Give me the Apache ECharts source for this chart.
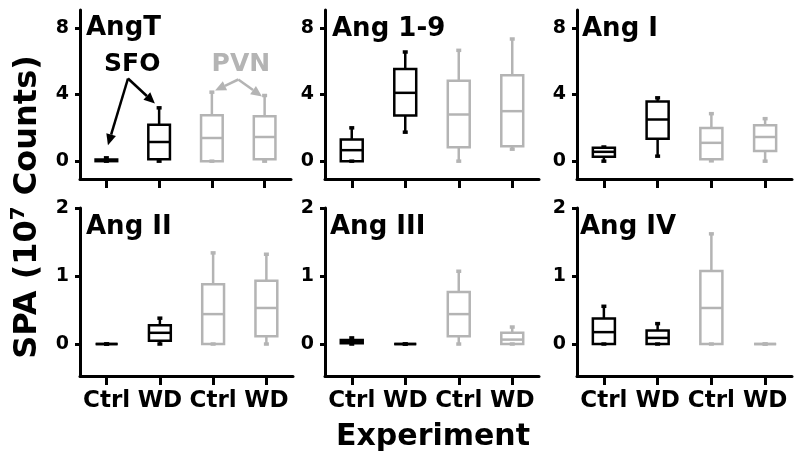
<!DOCTYPE html>
<html>
<head>
<meta charset="utf-8">
<script src="https://cdn.jsdelivr.net/npm/echarts@6/dist/echarts.min.js"></script>
<style>html,body{margin:0;padding:0;background:#fff}#c{width:800px;height:465px}</style>
</head>
<body>
<div id="c"></div>
<script>
// ---- data ----
const categories = ['Ctrl', 'WD', 'Ctrl', 'WD'];
const panelTitles = ['AngT', 'Ang 1-9', 'Ang I', 'Ang II', 'Ang III', 'Ang IV'];
// each box: [min, Q1, median, Q3, max]  (10^7 counts)
const angT   = [[0, 0, 0.05, 0.1, 0.2], [0, 0.12, 1.15, 2.19, 3.2], [0, 0, 1.39, 2.75, 4.14], [0, 0.12, 1.45, 2.7, 3.94]];
const ang19  = [[0, 0, 0.66, 1.3, 2.0], [1.74, 2.74, 4.1, 5.53, 6.55], [0, 0.84, 2.8, 4.83, 6.65], [0.72, 0.9, 3.0, 5.15, 7.33]];
const angI   = [[0, 0.26, 0.56, 0.8, 0.85], [0.3, 1.35, 2.5, 3.58, 3.8], [0.02, 0.12, 1.1, 1.99, 2.85], [0, 0.61, 1.45, 2.15, 2.55]];
const angII  = [[0, 0, 0, 0, 0], [0, 0.05, 0.165, 0.275, 0.38], [0, 0, 0.44, 0.88, 1.34], [0, 0.115, 0.53, 0.93, 1.32]];
const angIII = [[0, 0.01, 0.04, 0.06, 0.09], [0, 0, 0, 0, 0], [0, 0.115, 0.44, 0.765, 1.07], [0, 0, 0.065, 0.165, 0.25]];
const angIV  = [[0, 0, 0.175, 0.375, 0.555], [0, 0, 0.09, 0.2, 0.3], [0, 0, 0.53, 1.075, 1.62], [0, 0, 0, 0, 0]];
const topTicks = [0, 4, 8];
const bottomTicks = [0, 1, 2];
// annotation anchors in panel-1 data units: [category position, value]
const sfoLabel = [0.49, 5.79];
const sfoApex = [0.41, 4.96];
const sfoTips = [[0.03, 0.96], [0.92, 3.46]];
const pvnLabel = [2.55, 5.79];
const pvnApex = [2.5, 4.9];
const pvnTips = [[2.06, 4.24], [2.95, 3.88]];

// ---- styling ----
const FONT = '"DejaVu Sans", "Liberation Sans", Arial, sans-serif';
const BLACK = '#000000';
const GRAY = '#b4b4b4';
const panels = [angT, ang19, angI, angII, angIII, angIV];

const grids = [
  {left: 80, top: 10, width: 211, height: 169},
  {left: 325, top: 10, width: 214, height: 169},
  {left: 577, top: 10, width: 215, height: 169},
  {left: 80, top: 208, width: 213, height: 168},
  {left: 325, top: 208, width: 214, height: 168},
  {left: 577, top: 208, width: 215, height: 168}
];

function renderBox(params, api) {
  const i = api.value(0);
  const v = [1, 2, 3, 4, 5].map(k => api.value(k));
  const color = i < 2 ? BLACK : GRAY;
  const bw = api.size([1, 0])[0] * 0.41;
  const pts = v.map(val => api.coord([i, val]));
  const cx = pts[0][0];
  const y = pts.map(p => p[1]);
  const hw = bw / 2, cap = 2.5;
  const st = {stroke: color, lineWidth: 2.5, fill: 'none'};
  const capSt = {stroke: color, lineWidth: 3.5, fill: 'none'};
  return {
    type: 'group',
    children: [
      {type: 'line', shape: {x1: cx, y1: y[3], x2: cx, y2: y[4]}, style: st},
      {type: 'line', shape: {x1: cx, y1: y[1], x2: cx, y2: y[0]}, style: st},
      {type: 'line', shape: {x1: cx - cap, y1: y[4], x2: cx + cap, y2: y[4]}, style: capSt},
      {type: 'line', shape: {x1: cx - cap, y1: y[0], x2: cx + cap, y2: y[0]}, style: capSt},
      {type: 'rect', shape: {x: cx - hw, y: y[3], width: bw, height: Math.max(0, y[1] - y[3])}, style: st},
      {type: 'line', shape: {x1: cx - hw, y1: y[2], x2: cx + hw, y2: y[2]}, style: st}
    ]
  };
}

const xAxes = [], yAxes = [], series = [];
panels.forEach((p, g) => {
  const top = g < 3;
  xAxes.push({
    gridIndex: g, type: 'category', data: categories, boundaryGap: true,
    axisLine: {show: true, onZero: false, lineStyle: {color: BLACK, width: 3}},
    axisTick: {show: true, alignWithLabel: true, interval: 0, length: 9, lineStyle: {color: BLACK, width: 3}},
    axisLabel: {show: !top, interval: 0, hideOverlap: false, color: BLACK, fontSize: 23, fontWeight: 'bold', fontFamily: FONT, margin: 14},
    splitLine: {show: false}
  });
  yAxes.push({
    gridIndex: g, type: 'value',
    min: top ? -1.07 : -0.47, max: top ? 9.07 : 2,
    axisLine: {show: true, lineStyle: {color: BLACK, width: 3}},
    axisTick: {show: true, length: 5, lineStyle: {color: BLACK, width: 3}, customValues: top ? topTicks : bottomTicks},
    axisLabel: {show: true, color: BLACK, fontSize: 19, fontWeight: 'bold', fontFamily: FONT, margin: 11, customValues: top ? topTicks : bottomTicks},
    splitLine: {show: false}
  });
  series.push({
    type: 'custom', xAxisIndex: g, yAxisIndex: g,
    renderItem: renderBox,
    encode: {x: 0, y: [1, 2, 3, 4, 5]},
    data: p.map((b, i) => [i].concat(b)),
    silent: true
  });
});

const titlePos = [[86, 28], [332, 29], [582, 29], [86, 227], [330, 227], [580, 227]];
const graphics = panelTitles.map((t, k) => ({
  type: 'text', x: titlePos[k][0], y: titlePos[k][1],
  style: {text: t, fill: BLACK, font: 'bold 26px ' + FONT, align: 'left', verticalAlign: 'middle'}
}));
graphics.push({
  type: 'text', x: 433, y: 437,
  style: {text: 'Experiment', fill: BLACK, font: 'bold 30px ' + FONT, align: 'center', verticalAlign: 'middle'}
});
graphics.push({
  type: 'text', x: 28, y: 207, rotation: Math.PI / 2,
  style: {
    text: '{a|SPA (10}{s|7}{a| Counts)}',
    align: 'center', verticalAlign: 'middle',
    rich: {
      a: {fontSize: 32, fontWeight: 'bold', fontFamily: FONT, fill: BLACK, lineHeight: 40},
      s: {fontSize: 20, fontWeight: 'bold', fontFamily: FONT, fill: BLACK, lineHeight: 20, padding: [0, 0, 18, 0]}
    }
  }
});

const chart = echarts.init(document.getElementById('c'), null, {renderer: 'canvas'});
chart.setOption({
  animation: false,
  backgroundColor: '#ffffff',
  grid: grids,
  xAxis: xAxes,
  yAxis: yAxes,
  series: series,
  graphic: graphics
});

// annotations positioned through panel-1 scales
function toPx(pt) {
  const a = chart.convertToPixel({gridIndex: 0}, [0, pt[1]]);
  const b = chart.convertToPixel({gridIndex: 0}, [1, pt[1]]);
  return [a[0] + pt[0] * (b[0] - a[0]), a[1]];
}
function arrow(from, to, color) {
  const p0 = toPx(from), p1 = toPx(to);
  const dx = p1[0] - p0[0], dy = p1[1] - p0[1];
  const L = Math.sqrt(dx * dx + dy * dy);
  const ux = dx / L, uy = dy / L;
  const hl = 11, hw = 5;
  const bx = p1[0] - ux * hl, by = p1[1] - uy * hl;
  return [
    {type: 'line', shape: {x1: p0[0], y1: p0[1], x2: bx, y2: by}, style: {stroke: color, lineWidth: 2.5}},
    {type: 'polygon', shape: {points: [[p1[0], p1[1]], [bx - uy * hw, by + ux * hw], [bx + uy * hw, by - ux * hw]]}, style: {fill: color}}
  ];
}
const ann = [];
const sl = toPx(sfoLabel), pl = toPx(pvnLabel);
ann.push({type: 'text', x: sl[0], y: sl[1], style: {text: 'SFO', fill: BLACK, font: 'bold 25px ' + FONT, align: 'center', verticalAlign: 'middle'}});
ann.push({type: 'text', x: pl[0], y: pl[1], style: {text: 'PVN', fill: GRAY, font: 'bold 25px ' + FONT, align: 'center', verticalAlign: 'middle'}});
sfoTips.forEach(t => ann.push(...arrow(sfoApex, t, BLACK)));
pvnTips.forEach(t => ann.push(...arrow(pvnApex, t, GRAY)));
chart.setOption({graphic: graphics.concat(ann)});
</script>
</body>
</html>
